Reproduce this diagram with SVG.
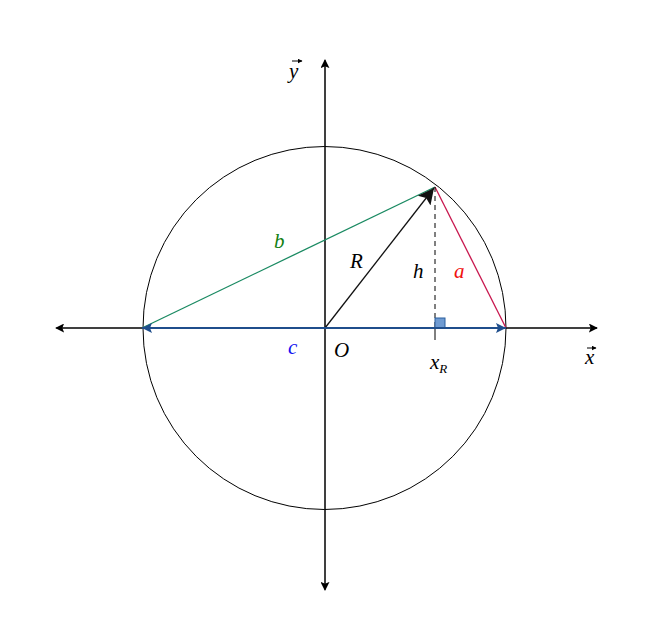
<svg xmlns="http://www.w3.org/2000/svg" width="670" height="641" viewBox="0 0 670 641">
<style>
text{font-family:"Liberation Serif","DejaVu Serif",serif;font-style:italic;font-size:21px}
.ax{stroke:#000;stroke-width:1;fill:none}
.va{stroke:#000;stroke-width:1;fill:none}
</style>
<defs>
<marker id="ah" viewBox="0 0 10 10" refX="9" refY="5" markerWidth="9" markerHeight="9" markerUnits="userSpaceOnUse" orient="auto"><path d="M0,0 L10,5 L0,10 L2,5 Z" fill="#000"/></marker>
<marker id="sh" viewBox="0 0 10 10" refX="9" refY="5" markerWidth="5" markerHeight="5" markerUnits="userSpaceOnUse" orient="auto"><path d="M0,0 L10,5 L0,10 Z" fill="#000"/></marker>
<marker id="bh" viewBox="0 0 10 10" refX="10" refY="5" markerWidth="14" markerHeight="10" markerUnits="userSpaceOnUse" orient="auto"><path d="M0,0 L10,5 L0,10 L2,5 Z" fill="#1f4e8c"/></marker>
<marker id="rh" viewBox="0 0 10 10" refX="10" refY="5" markerWidth="20" markerHeight="16" markerUnits="userSpaceOnUse" orient="auto"><path d="M0,0 L10,5 L0,10 L2,5 Z" fill="#111"/></marker>
</defs>
<g id="circle"><circle cx="324.5" cy="328" r="181.5" fill="none" stroke="#000" stroke-width="1"/></g>
<g id="connectors">
<line class="ax" x1="61" y1="328" x2="597" y2="328" marker-end="url(#ah)"/>
<line class="ax" x1="597" y1="328" x2="56" y2="328" marker-end="url(#ah)"/>
<line class="ax" x1="325" y1="585" x2="325" y2="60" marker-end="url(#ah)"/>
<line class="ax" x1="325" y1="65" x2="325" y2="590" marker-end="url(#ah)"/>
<line x1="142" y1="328" x2="435" y2="187" stroke="#1a8a62" stroke-width="1.3"/>
<line x1="435" y1="187" x2="506" y2="328" stroke="#c8174e" stroke-width="1.3"/>
<line x1="435" y1="187" x2="435" y2="328" stroke="#000" stroke-width="1" stroke-dasharray="5,4"/>
<line x1="435" y1="328" x2="435" y2="340" stroke="#000" stroke-width="1"/>
<rect x="435" y="318" width="10" height="10" fill="#6f9bd2" stroke="#2b5f9e" stroke-width="1"/>
<line x1="325" y1="328" x2="434" y2="188" stroke="#111" stroke-width="1.3" marker-end="url(#rh)"/>
<line x1="155" y1="328" x2="493" y2="328" stroke="#1f4e8c" stroke-width="2"/>
<line x1="300" y1="328" x2="506" y2="328" stroke="#1f4e8c" stroke-width="2" marker-end="url(#bh)"/>
<line x1="300" y1="328" x2="142" y2="328" stroke="#1f4e8c" stroke-width="2" marker-end="url(#bh)"/>
</g>
<g id="labels">
<text x="289" y="78">y</text>
<line class="va" x1="292" y1="61" x2="302" y2="61" marker-end="url(#sh)"/>
<text x="585" y="364">x</text>
<line class="va" x1="587" y1="348" x2="596" y2="348" marker-end="url(#sh)"/>
<text x="274" y="248" fill="#128012">b</text>
<text x="350" y="268">R</text>
<text x="413" y="278">h</text>
<text x="454" y="278" fill="#f01010">a</text>
<text x="288" y="354" fill="#1010f0">c</text>
<text x="334" y="357">O</text>
<text x="430" y="369">x<tspan font-size="13" dy="4">R</tspan></text>
</g>
</svg>
